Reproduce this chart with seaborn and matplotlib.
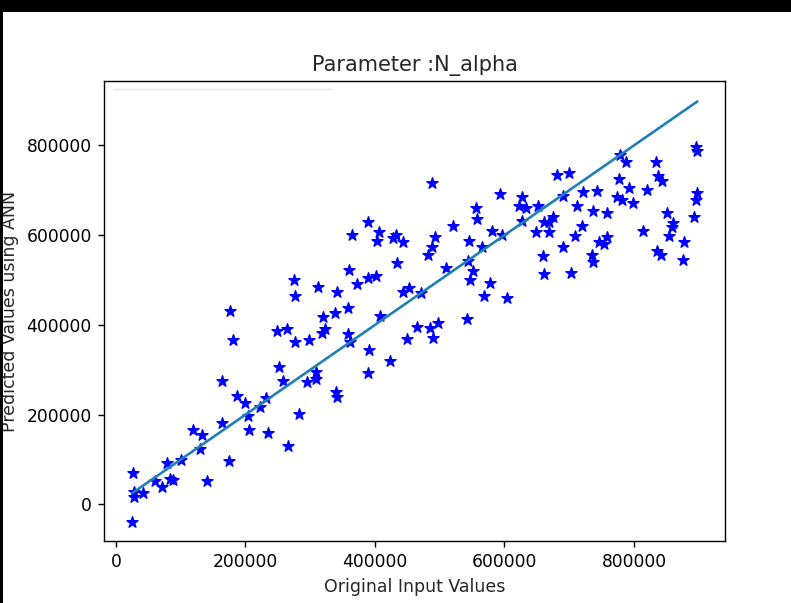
import matplotlib
matplotlib.use("Agg")
import matplotlib.pyplot as plt
from matplotlib.patches import Rectangle
from matplotlib.lines import Line2D
import seaborn as sns
import pandas as pd

# Original inputs of parameter N_alpha and the ANN predictions for them
original_values = [
    26700, 28300, 28300, 42200, 25200, 60200, 71500, 78300, 83400, 87600,
    100400, 118500, 132400, 129700, 141000, 163200, 163200, 174500, 176100, 180200,
    187300, 199200, 203400, 205400, 222400, 231700, 234300, 251700, 248200, 263600,
    258400, 265200, 276400, 275400, 276400, 282600, 294500, 298500, 308400, 308400,
    311500, 319200, 318600, 322800, 338200, 340900, 339800, 340900, 357800, 357800,
    361400, 359800, 364000, 371700, 388700, 388700, 401500, 406200, 402600, 407700,
    390700, 388700, 423200, 427300, 432000, 442800, 433500, 442800, 453000, 449900,
    464400, 470600, 487600, 492700, 487600, 481400, 485000, 489100, 496800, 509200,
    520000, 541600, 544100, 551800, 546700, 545600, 556000, 557100, 564800, 568800,
    577600, 580200, 593100, 595700, 603400, 626600, 622400, 632700, 626600, 652200,
    648200, 659000, 661500, 661500, 668700, 675400, 669200, 680600, 700100, 690800,
    689900, 702200, 708900, 711500, 719200, 721700, 734700, 737100, 737100, 743300,
    746400, 754100, 758800, 757800, 773300, 781000, 778400, 787200, 777300, 792700,
    798900, 819600, 833500, 837500, 843700, 813400, 850500, 860700, 858200, 854500,
    835000, 841200, 877700, 875200, 893100, 895300, 896800, 895800, 898000,
]
predicted_values = [
    69500, 28500, 17400, 25000, -38300, 53000, 39700, 93100, 56200, 54600,
    99200, 166000, 154900, 123700, 52400, 275200, 182300, 96300, 431200, 366600,
    241800, 226800, 197200, 166000, 216600, 236700, 158700, 307100, 386600, 391100,
    275200, 130400, 361400, 500300, 464600, 201700, 273600, 366600, 294600, 279700,
    484000, 417200, 381500, 390400, 426100, 472900, 250000, 240200, 437200, 379900,
    362800, 522600, 600600, 491400, 629500, 504100, 509200, 606600, 587200, 420000,
    344300, 292400, 319800, 594500, 600600, 585600, 537500, 472900, 481800, 368800,
    394900, 470600, 715800, 595400, 574500, 556000, 392600, 371700, 403800, 526300,
    621300, 412700, 543300, 520300, 500300, 587900, 660100, 636200, 574500, 465300,
    492900, 610100, 691200, 600600, 459500, 684600, 665200, 660100, 631800, 665200,
    606600, 554400, 513000, 630200, 628900, 640000, 607900, 734300, 738000, 687500,
    573100, 515200, 599000, 665200, 620600, 695700, 556000, 541000, 654000, 698600,
    584300, 579800, 596800, 648900, 684600, 678500, 778800, 762600, 724700, 704600,
    671200, 700800, 762600, 732700, 720900, 610100, 648900, 626600, 619000, 599000,
    564900, 556000, 584300, 544800, 640000, 678500, 693500, 796000, 787700,
]

title_text = "Parameter :N_alpha"
x_label = "Original Input Values"
y_label = "Predicted Values using ANN"
x_ticks = [0, 200000, 400000, 600000, 800000]
y_ticks = [0, 200000, 400000, 600000, 800000]

sns.set_style("ticks")
plt.rcParams.update({
    "font.family": ["DejaVu Sans"],
    "axes.edgecolor": "black",
    "axes.linewidth": 1.0,
    "xtick.color": "black",
    "ytick.color": "black",
    "xtick.direction": "out",
    "ytick.direction": "out",
    "xtick.major.size": 4.5,
    "ytick.major.size": 4.5,
    "xtick.major.width": 1.0,
    "ytick.major.width": 1.0,
    "xtick.major.pad": 4.4,
    "ytick.major.pad": 4.4,
})

df = pd.DataFrame({"original": original_values, "predicted": predicted_values})

fig = plt.figure(figsize=(7.91, 6.03), dpi=100)
fig.patch.set_facecolor("white")
ax = fig.add_axes([104 / 791, 62 / 603, 621 / 791, 460 / 603])

sns.scatterplot(data=df, x="original", y="predicted", ax=ax, marker="*",
                color="blue", edgecolor="blue", s=70, linewidth=1.0,
                zorder=2, legend=False)
sns.lineplot(data=df, x="original", y="original", ax=ax, color="#2080b4",
             linewidth=1.9, zorder=3, errorbar=None)

ax.set_xlim(-18500, 940600)
ax.set_ylim(-81500, 943500)
ax.set_xticks(x_ticks)
ax.set_yticks(y_ticks)
ax.set_xticklabels([str(v) for v in x_ticks])
ax.set_yticklabels([str(v) for v in y_ticks])
ax.tick_params(labelsize=12.3)
for side in ("top", "right", "left", "bottom"):
    ax.spines[side].set_visible(True)
    ax.spines[side].set_color("black")

ax.set_title(title_text, fontsize=15, pad=7.5)
ax.set_xlabel(x_label, fontsize=12.5, labelpad=4.5)
ax.set_ylabel(y_label, fontsize=12.5)
ax.yaxis.set_label_coords((19 - 104) / 621, 0.5)

# faint rule across the upper left of the plot area
ax.add_line(Line2D([0.0145, 0.367], [0.9826, 0.9826], transform=ax.transAxes,
                   color="#e4e4e4", linewidth=1.0, zorder=1))

# black frame strips along the top and left edges
fig.add_artist(Rectangle((0, 1 - 12 / 603), 1, 12 / 603, transform=fig.transFigure,
                         facecolor="black", edgecolor="none", zorder=10))
fig.add_artist(Rectangle((0, 0), 3 / 791, 1, transform=fig.transFigure,
                         facecolor="black", edgecolor="none", zorder=10))

fig.savefig("out.png", dpi=100, facecolor="white")
